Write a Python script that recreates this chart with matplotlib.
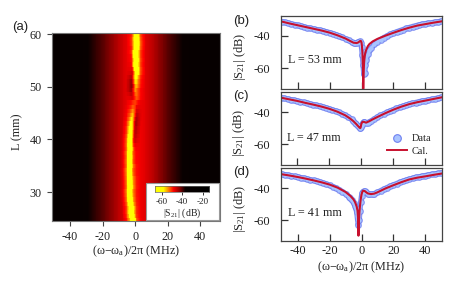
import numpy as np
import matplotlib
matplotlib.use("Agg")
import matplotlib.pyplot as plt
from matplotlib.colors import LinearSegmentedColormap, Normalize
from matplotlib.patches import Rectangle
from matplotlib.lines import Line2D

# ---------- data ----------
b_data_x = [-50,-48,-46,-44,-42,-40,-38,-36,-34,-32,-30,-28,-26,-24,-22,-20,-18,-16,-14,-12,-10,-8,-6,-5,-4,-3,-2,-1,-0.5,0,0.5,1,1.5,2,2.5,3,4,5,6,8,10,12,14,16,18,20,22,24,26,28,30,32,34,36,38,40,42,44,46,48,50]
b_data_y = [-31,-31.5,-31.9,-32.4,-32.9,-33.4,-33.8,-34.3,-34.8,-35.2,-35.6,-36,-36.4,-36.9,-37.4,-37.9,-38.5,-39.2,-40,-40.9,-41.8,-42.8,-43.9,-44.4,-44.5,-44.3,-43.6,-43.4,-44.5,-47,-52,-58,-64,-63,-58,-55,-51.5,-49,-47.5,-45.3,-43.6,-42.2,-41,-40,-39,-38.2,-37.4,-36.7,-36,-35.3,-34.7,-34.1,-33.6,-33.1,-32.7,-32.3,-32,-31.7,-31.4,-31.1,-30.8]

b_cal_x = [-50,-45,-40,-35,-30,-25,-20,-15,-10,-7,-5,-3,-2,-1,-0.5,0,0.3,0.6,0.9,1.1,1.3,1.6,2,2.5,3,4,5,7,10,15,20,25,30,35,40,45,50]
b_cal_y = [-31,-32.2,-33.3,-34.4,-35.5,-36.6,-37.9,-39.6,-41.6,-43.2,-44.2,-44.4,-44,-43.2,-43,-44,-46.5,-51,-60,-73,-64,-57,-52.5,-50,-48.5,-46.3,-45,-43.4,-41.8,-39.8,-38,-36.3,-34.8,-33.5,-32.6,-31.7,-30.9]

c_data_x = [-50,-48,-46,-44,-42,-40,-38,-36,-34,-32,-30,-28,-26,-24,-22,-20,-18,-16,-14,-12,-10,-8,-6,-5,-4,-3,-2,-1,-0.5,0,0.5,1,1.5,2,3,4,5,6,8,10,12,14,16,18,20,22,24,26,28,30,32,34,36,38,40,42,44,46,48,50]
c_data_y = [-31,-31.4,-31.8,-32.2,-32.6,-33,-33.4,-33.9,-34.4,-34.9,-35.3,-35.8,-36.3,-36.8,-37.3,-37.9,-38.6,-39.3,-40.1,-41,-42,-43.2,-44.6,-45.6,-46.6,-47.6,-48.7,-49.8,-50.2,-49.5,-48,-46.8,-46.2,-46.3,-46.7,-46.7,-46.2,-45.7,-44.4,-43.2,-42.1,-41.1,-40.2,-39.3,-38.5,-37.7,-37,-36.3,-35.6,-35,-34.5,-34,-33.5,-33.1,-32.8,-32.4,-32,-31.6,-31.2,-30.8]

c_cal_x = [-50,-45,-40,-35,-30,-25,-20,-15,-10,-7,-5,-3,-2,-1,-0.6,-0.3,0,0.5,1,2,3,5,7,10,15,20,25,30,35,40,45,50]
c_cal_y = [-31,-32,-33,-34.2,-35.3,-36.5,-37.9,-39.7,-42,-44,-45.6,-47.6,-48.7,-49.8,-50,-49.3,-47.6,-46.4,-46,-46.2,-46.6,-45.7,-44.6,-43.1,-40.7,-38.5,-36.6,-35,-33.8,-32.8,-31.8,-30.8]

d_data_x = [-50,-48,-46,-44,-42,-40,-38,-36,-34,-32,-30,-28,-26,-24,-22,-20,-18,-16,-14,-12,-10,-8,-7,-6,-5,-4,-3.5,-3,-2.5,-2,-1.5,-1,-0.5,0,0.5,1,1.5,2,3,4,5,6,7,8,10,12,14,16,18,20,22,24,26,28,30,32,34,36,38,40,42,44,46,48,50]
d_data_y = [-31.4,-31.7,-32,-32.3,-32.7,-33.1,-33.5,-33.9,-34.3,-34.8,-35.2,-35.7,-36.2,-36.9,-37.6,-38.3,-39.1,-40,-41,-42.2,-43.5,-45.4,-46.4,-47.6,-49,-51,-52.5,-55,-59,-63,-60,-54,-48.5,-45,-43,-42.2,-42,-42,-42.6,-43.4,-43.8,-43.9,-43.7,-43.4,-42.6,-41.6,-40.6,-39.7,-38.8,-38,-37.2,-36.4,-35.8,-35.1,-34.5,-33.9,-33.4,-33,-32.6,-32.2,-31.8,-31.5,-31.2,-30.9,-30.6]

d_cal_x = [-50,-45,-40,-35,-30,-25,-20,-15,-10,-7,-5,-4,-3,-2.5,-2.2,-1.9,-1.6,-1.3,-1,-0.5,0,0.5,1,2,3,4,6,8,10,15,20,25,30,35,40,45,50]
d_cal_y = [-31.4,-32.2,-33.1,-34.1,-35.2,-36.4,-37.8,-39.7,-42.4,-44.8,-47,-48.8,-51.5,-54,-58,-69.5,-60,-55,-51.5,-47,-44,-42.3,-41.6,-41.8,-42.6,-43.3,-43.7,-43.4,-42.6,-40.2,-38.2,-36.3,-34.6,-33.5,-32.7,-31.8,-31]

# map: |S21| background versus detuning
map_x = [-51,-45,-40,-35,-30,-25,-20,-15,-12,-10,-8,-6,-4,-2,0,2,4,6,8,10,12,15,20,25,30,35,40,45,52]
map_base = [-31,-32,-33,-35,-37,-39,-40.8,-43,-44.5,-45.5,-46.5,-47.4,-48.2,-49,-49,-48.6,-48,-47.4,-46.6,-45.8,-44.8,-43.2,-40.9,-39,-37.2,-35,-33,-32,-31]

# resonance line position versus L (top to bottom)
map_L = [60.2,59.4,58.6,57.8,57,56.2,55.4,54.6,53.8,53,52.2,51.4,50.6,49.8,49,48.2,47.4,46.6,45.8,45,44.2,43.4,42.6,41.8,41,40.2,39.4,38.6,37.8,37,36.2,35.4,34.6,33.8,33,32.2,31.4,30.6,29.8,29,28.2,27.4,26.6,25.8,25,24.5]
map_dip_x = [0.6,0.6,0.7,0.6,0.2,0.2,0.4,0.2,0.5,0.6,0.2,0.1,0.2,-0.1,0.2,0.5,0.1,-1,-1.3,-1.5,-1.8,-2.1,-2.3,-2.4,-2.6,-2.8,-2.9,-2.8,-3.1,-3.0,-3.1,-3.0,-3.3,-3.2,-3.1,-3.0,-2.9,-3.2,-3.1,-2.9,-2.6,-2.2,-2.3,-2.0,-1.4,-1.2]
map_dip_db = [-62,-64,-64,-64,-64,-64,-64,-64,-64,-62,-60,-58,-56,-54,-53,-52,-51,-52,-54,-56,-58,-60,-62,-62,-64,-64,-64,-64,-64,-64,-64,-64,-64,-64,-64,-64,-64,-64,-64,-64,-64,-64,-64,-64,-64,-64]
map_bump_db = [2,2,2,3,3,4,4,5,6,7,8,9,9,7,5,3,1,2,4,6,8,9,9,9,9,8,6,5,4,4,4,3,3,3,2,2,2,2,2,2,2,2,2,2,2,2]

dip_off = [-6,-4,-3,-2,-1.2,-0.6,0,0.6,1.2,2,3,4,6]
dip_wt = [0,0.12,0.25,0.45,0.8,1,1,1,0.8,0.45,0.25,0.12,0]
bump_off = [0,1,2,3,4,6]
bump_wt = [0,0.6,1,0.8,0.4,0]

cb_levels = [-66.5,-58.5,-54,-49,-43,-37.5,-14]
cb_colors = ["#ffff00","#ffff00","#ff8c00","#ff0000","#8a0000","#080000","#000000"]

x_ticks = [-40,-20,0,20,40]
a_y_ticks = [30,40,50,60]
r_y_ticks = [-40,-60]
cb_ticks = [-60,-40,-20]

# ---------- style ----------
plt.rcParams["font.family"] = ["Liberation Serif", "DejaVu Serif"]
plt.rcParams["mathtext.fontset"] = "custom"
plt.rcParams["mathtext.rm"] = "Liberation Serif"
plt.rcParams["mathtext.it"] = "Liberation Serif"
plt.rcParams["mathtext.default"] = "regular"
plt.rcParams["axes.unicode_minus"] = False

W, H = 463, 291
fig = plt.figure(figsize=(W/100, H/100), dpi=100)

def box(x0, y0, x1, y1):
    return [x0/W, 1-y1/H, (x1-x0)/W, (y1-y0)/H]

TXT = "#222222"
FS = 8.3
xlab = "(\u03c9\u2212\u03c9$_{a}$)/2\u03c0 (MHz)"
slab = r"$|$S$_{21}|$ (dB)"
BAND = "#6e7ff0"
FILL = "#a9c4ff"
RED = "#c8102e"

# ---------- panel a ----------
ax = fig.add_axes(box(52, 33, 220, 221))
x_fine = np.linspace(-51, 52, 207)
x_edges = np.linspace(-51.25, 52.25, 208)
base = np.interp(x_fine, map_x, map_base)
Z = np.zeros((len(map_L), x_fine.size))
for i, (c, d, b) in enumerate(zip(map_dip_x, map_dip_db, map_bump_db)):
    w = np.interp(x_fine - c, dip_off, dip_wt)
    row = base + (d - base) * w
    L = map_L[i]
    # the dark side-peak lies to the left above the crossing and to the right below it
    sgn = -1 if L > 47.5 else 1
    row = row + b * np.interp(sgn * (x_fine - c), bump_off, bump_wt)
    Z[i] = row
vmin, vmax = cb_levels[0], cb_levels[-1]
norm = Normalize(vmin, vmax)
cmap = LinearSegmentedColormap.from_list(
    "s21", [((v - vmin) / (vmax - vmin), c) for v, c in zip(cb_levels, cb_colors)], N=512)
L_edges = np.array(map_L)
ax.pcolormesh(x_edges, L_edges, Z[:-1], cmap=cmap, norm=norm, shading="flat", rasterized=True)
ax.set_xlim(-51, 52)
ax.set_ylim(24.5, 60.2)
ax.set_xticks(x_ticks)
ax.set_yticks(a_y_ticks)
ax.tick_params(length=3.5, width=0.8, color="#444444", labelsize=FS+0.4, labelcolor=TXT, pad=4)
for s in ax.spines.values():
    s.set_color("#777777"); s.set_linewidth(0.8)
ax.set_xlabel(xlab, fontsize=FS+0.4, color=TXT, labelpad=0)
ax.set_ylabel("L (mm)", fontsize=FS+0.4, color=TXT)
ax.yaxis.set_label_coords(-0.173, 0.475)

# colorbar box
fig.add_artist(Rectangle((146/W, 1-220/H), 73/W, 37/H, transform=fig.transFigure,
                         facecolor="white", edgecolor="#999999", linewidth=0.8, zorder=5))
cax = fig.add_axes(box(155, 185.5, 209, 192))
cax.set_zorder(6)
cax.imshow(np.linspace(vmin, vmax, 256)[None, :], cmap=cmap, norm=norm, aspect="auto",
           extent=[vmin, vmax, 0, 1])
cax.set_yticks([])
cax.set_xticks(cb_ticks)
cax.tick_params(axis="x", length=2.5, width=0.7, labelsize=6.6, pad=1.5, color="#333333", labelcolor=TXT)
for s in cax.spines.values():
    s.set_color("#666666"); s.set_linewidth(0.5)
cax.set_xlabel(slab, fontsize=7, color=TXT, labelpad=0.5)

# ---------- right panels ----------
def right_panel(rect, ylim, dx, dy, cx, cy, txt, tx, ty, last=False):
    a = fig.add_axes(box(*rect))
    a.plot(dx, dy, color=BAND, lw=3.9, marker="o", ms=4.9, mew=0, alpha=0.8,
           solid_joinstyle="round", solid_capstyle="round")
    a.plot(dx, dy, color=FILL, lw=2.0, marker="o", ms=3.2, mew=0)
    a.plot(cx, cy, color=RED, lw=1.5)
    a.set_xlim(-50.5, 50.5)
    a.set_ylim(*ylim)
    a.set_xticks(x_ticks)
    a.set_yticks(r_y_ticks)
    a.tick_params(direction="in", length=5, width=0.9, color="#333333", labelsize=FS+0.7, labelcolor=TXT, pad=3)
    a.tick_params(axis="y", pad=7.5)
    if not last:
        a.tick_params(labelbottom=False)
    for s in a.spines.values():
        s.set_color("#444444"); s.set_linewidth(0.9)
    a.set_ylabel(slab, fontsize=FS+0.7, color=TXT)
    a.yaxis.set_label_coords(-0.205, 0.44)
    fig.text(tx/W, 1-ty/H, txt, fontsize=FS+0.4, color=TXT, va="center", ha="left")
    return a

right_panel((281, 15.5, 442, 88.5), (-72.8, -27.2), b_data_x, b_data_y, b_cal_x, b_cal_y, "L = 53 mm", 288.5, 60)
c_ax = right_panel((280.5, 92, 442, 164.5), (-72.8, -27.4), c_data_x, c_data_y, c_cal_x, c_cal_y, "L = 47 mm", 287, 138)
d_ax = right_panel((281, 167.5, 442, 241), (-72.8, -27.2), d_data_x, d_data_y, d_cal_x, d_cal_y, "L = 41 mm", 288, 213, last=True)
d_ax.set_xlabel(xlab, fontsize=FS+0.4, color=TXT, labelpad=2)

handles = [Line2D([], [], ls="none", marker="o", ms=5.5, mfc=FILL, mec=BAND, mew=0.8, label="Data"),
           Line2D([], [], color=RED, lw=1.4, label="Cal.")]
c_ax.legend(handles=handles, frameon=False, fontsize=7.4, loc="lower right",
            bbox_to_anchor=((431-280.5)/161.5, (164.5-156)/72.5), labelspacing=0.35,
            handlelength=1.95, handletextpad=0.45, borderpad=0, borderaxespad=0, labelcolor=TXT)

# ---------- panel labels ----------
for t, x, y in [("(a)", 12.5, 27), ("(b)", 233, 21), ("(c)", 233, 96), ("(d)", 233, 172)]:
    fig.text(x/W, 1-y/H, t, fontsize=9.5, family=["Liberation Sans", "DejaVu Sans"], color=TXT, va="center", ha="left")

fig.savefig("out.png", dpi=100)
